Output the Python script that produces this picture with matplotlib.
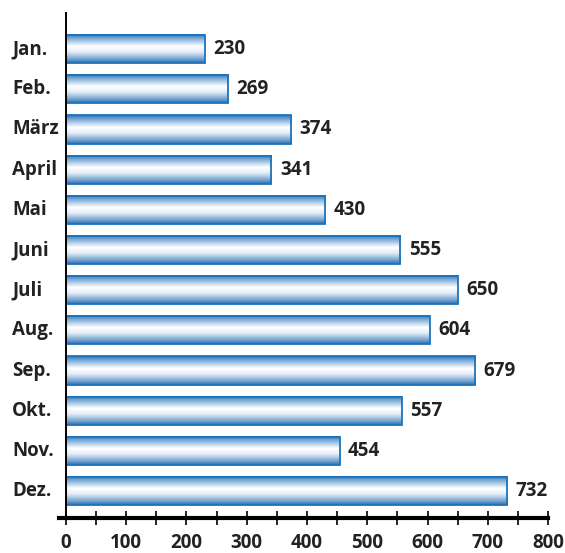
import matplotlib
matplotlib.use("Agg")
import matplotlib.pyplot as plt
import matplotlib.transforms as mtransforms
import numpy as np
from matplotlib.colors import LinearSegmentedColormap

# data
months = ["Jan.", "Feb.", "März", "April", "Mai", "Juni",
          "Juli", "Aug.", "Sep.", "Okt.", "Nov.", "Dez."]
values = [230, 269, 374, 341, 430, 555, 650, 604, 679, 557, 454, 732]
x_ticks = [0, 100, 200, 300, 400, 500, 600, 700, 800]

BLUE = "#1c74bc"
TXT = "#222222"
FONT = "Open Sans"
FS = 13.5
BAR_H = 0.70

# cylinder look: blue at the edges, white a bit above the middle
cyl = LinearSegmentedColormap.from_list(
    "cyl", [(0.0, "#2a78bd"), (0.18, "#8fb6dc"), (0.42, "#ffffff"),
            (0.62, "#e4edf7"), (0.85, "#7fa9d4"), (1.0, "#2a70b6")])
grad = np.linspace(0, 1, 64).reshape(-1, 1)

fig = plt.figure(figsize=(5.65, 5.53), dpi=100)
ax = fig.add_axes([0.105, 0.0633, 0.865, 0.914])

for i, v in enumerate(values):
    ax.imshow(grad, cmap=cyl, aspect="auto", interpolation="bilinear",
              extent=[0, v, i + BAR_H / 2, i - BAR_H / 2], zorder=2)
    ax.barh(i, v, height=BAR_H, facecolor="none", edgecolor=BLUE,
            linewidth=1.3, zorder=3)
    ax.text(v + 14, i, str(v), va="center", ha="left", fontsize=FS,
            fontweight="bold", family=FONT, color=TXT)

# month names, left aligned near the figure edge
trans = mtransforms.blended_transform_factory(fig.transFigure, ax.transData)
for i, m in enumerate(months):
    ax.text(12 / 565, i, m, transform=trans, va="center", ha="left",
            fontsize=FS, fontweight="bold", family=FONT, color=TXT)

ax.set_xlim(-11, 800)
ax.set_ylim(len(values) - 1 + 0.67, -0.91)

ax.spines["top"].set_visible(False)
ax.spines["right"].set_visible(False)
ax.spines["left"].set_position(("data", 0))
ax.spines["left"].set_linewidth(1.4)
ax.spines["bottom"].set_linewidth(3)
ax.spines["left"].set_zorder(4)

ax.set_yticks([])
ax.set_xticks(x_ticks)
ax.set_xticks(np.arange(50, 800, 100), minor=True)
ax.tick_params(axis="x", which="both", direction="inout", length=10,
               width=1.2, pad=6)
for lbl in ax.get_xticklabels():
    lbl.set_fontsize(FS)
    lbl.set_fontweight("bold")
    lbl.set_family(FONT)
    lbl.set_color(TXT)

fig.savefig("out.png", dpi=100)
